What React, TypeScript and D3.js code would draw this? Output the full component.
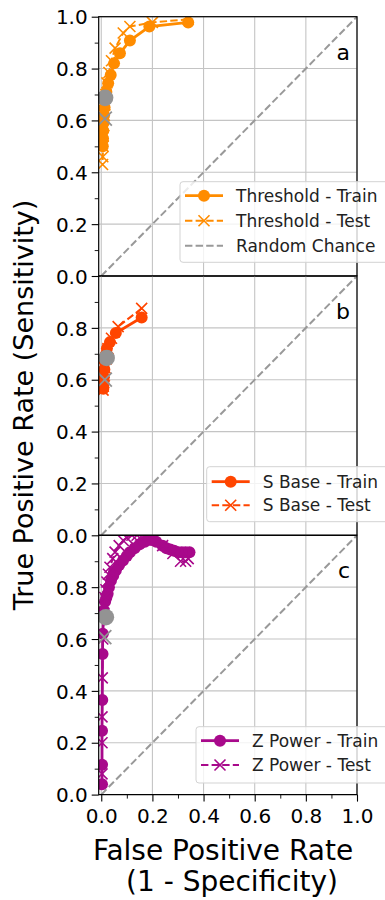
import React, { useEffect, useRef } from 'react';
import * as d3 from 'd3';

// panel a - threshold
const thresholdTrainFpr = [0.34, 0.188, 0.112, 0.073, 0.05, 0.037, 0.027, 0.02, 0.016, 0.013, 0.011, 0.009, 0.008, 0.007, 0.006];
const thresholdTrainTpr = [0.978, 0.962, 0.908, 0.859, 0.82, 0.775, 0.743, 0.71, 0.68, 0.65, 0.62, 0.59, 0.56, 0.53, 0.5];
const thresholdTestFpr = [0.34, 0.2, 0.112, 0.086, 0.054, 0.04, 0.03, 0.022, 0.018, 0.014, 0.012, 0.01, 0.008, 0.007, 0.006, 0.005];
const thresholdTestTpr = [0.99, 0.978, 0.962, 0.937, 0.879, 0.83, 0.785, 0.745, 0.7, 0.66, 0.62, 0.58, 0.54, 0.5, 0.46, 0.43];
// panel b - s base
const sBaseTrainFpr = [0.158, 0.057, 0.034, 0.022, 0.017, 0.014, 0.012, 0.01, 0.009, 0.008];
const sBaseTrainTpr = [0.84, 0.78, 0.745, 0.72, 0.695, 0.67, 0.64, 0.61, 0.585, 0.565];
const sBaseTestFpr = [0.158, 0.066, 0.04, 0.026, 0.019, 0.015, 0.012, 0.01, 0.008, 0.007];
const sBaseTestTpr = [0.875, 0.805, 0.76, 0.72, 0.68, 0.645, 0.615, 0.59, 0.575, 0.56];
// panel c - z power
const zPowerTrainFpr = [0.345, 0.33, 0.315, 0.3, 0.285, 0.27, 0.255, 0.24, 0.215, 0.2, 0.19, 0.17, 0.15, 0.13, 0.112, 0.1, 0.085, 0.07, 0.057, 0.047, 0.038, 0.03, 0.025, 0.02, 0.015, 0.01, 0.006, 0.005, 0.004, 0.003, 0.003, 0.003];
const zPowerTrainTpr = [0.935, 0.935, 0.935, 0.935, 0.94, 0.945, 0.95, 0.96, 0.975, 0.982, 0.983, 0.975, 0.965, 0.95, 0.935, 0.92, 0.903, 0.885, 0.865, 0.845, 0.826, 0.8, 0.775, 0.76, 0.745, 0.71, 0.62, 0.542, 0.365, 0.246, 0.115, 0.04];
const zPowerTestFpr = [0.34, 0.33, 0.31, 0.28, 0.24, 0.2, 0.16, 0.14, 0.12, 0.1, 0.086, 0.07, 0.054, 0.045, 0.034, 0.028, 0.022, 0.018, 0.014, 0.01, 0.006, 0.004, 0.003, 0.003, 0.003];
const zPowerTestTpr = [0.91, 0.9, 0.9, 0.93, 0.96, 0.995, 1.0, 1.0, 1.0, 0.99, 0.98, 0.96, 0.935, 0.91, 0.877, 0.85, 0.82, 0.79, 0.76, 0.7, 0.6, 0.45, 0.3, 0.2, 0.08];
// gray operating points [fpr, tpr] per panel
const grayTrainPoints = [[0.015, 0.687], [0.021, 0.684], [0.018, 0.684]];
const grayTestPoints = [[0.014, 0.607], [0.014, 0.6], [0.012, 0.607]];

const xTicks = [0, 0.2, 0.4, 0.6, 0.8, 1.0];
const yTicksFull = [0, 0.2, 0.4, 0.6, 0.8, 1.0];
const yTicksShort = [0, 0.2, 0.4, 0.6, 0.8];
const minorTicks = [0.1, 0.3, 0.5, 0.7, 0.9];

const FONT = 'DejaVu Sans, sans-serif';
const zip = (a: number[], b: number[]) => a.map((v, i) => [v, b[i]]);

export default function App() {
  const ref = useRef<SVGSVGElement>(null);

  useEffect(() => {
    draw();
  }, []);

  function draw() {
    const svg = d3.select(ref.current);
    svg.selectAll('*').remove();

    const left = 98.7;
    const right = 357;
    const panelH = 259.3;
    const tops = [16.7, 276, 535.3];

    const x = d3.scaleLinear().domain([-0.01, 1.0]).range([left, right]);

    const panels = [
      {
        letter: 'a', color: '#ff8c00', train: zip(thresholdTrainFpr, thresholdTrainTpr), test: zip(thresholdTestFpr, thresholdTestTpr),
        names: ['Threshold - Train', 'Threshold - Test', 'Random Chance'], yTicks: yTicksFull,
        legend: { x: 180, y: 165, h: 80.6, row0: 14, gap: 25 },
      },
      {
        letter: 'b', color: '#ff4500', train: zip(sBaseTrainFpr, sBaseTrainTpr), test: zip(sBaseTestFpr, sBaseTestTpr),
        names: ['S Base - Train', 'S Base - Test'], yTicks: yTicksShort,
        legend: { x: 206.7, y: 190.7, h: 55, row0: 15, gap: 23.5 },
      },
      {
        letter: 'c', color: '#a8098b', train: zip(zPowerTrainFpr, zPowerTrainTpr), test: zip(zPowerTestFpr, zPowerTestTpr),
        names: ['Z Power - Train', 'Z Power - Test'], yTicks: yTicksShort,
        legend: { x: 196, y: 191.4, h: 56.3, row0: 14, gap: 24.3 },
      },
    ];

    const xMark = (sel: any, cx: number, cy: number, s: number, color: string, w: number) => {
      sel.append('path')
        .attr('d', `M${cx - s},${cy - s}L${cx + s},${cy + s}M${cx - s},${cy + s}L${cx + s},${cy - s}`)
        .attr('stroke', color).attr('stroke-width', w).attr('fill', 'none');
    };

    panels.forEach((p, i) => {
      const top = tops[i];
      const bottom = top + panelH;
      const y = d3.scaleLinear().domain([0, 1]).range([bottom, top]);
      const g = svg.append('g');
      const clipId = `clip-${i}`;
      svg.append('clipPath').attr('id', clipId).append('rect')
        .attr('x', left).attr('y', top).attr('width', right - left).attr('height', panelH);

      // grid
      const grid = g.append('g').attr('stroke', '#c4c4c4').attr('stroke-width', 1.1);
      xTicks.forEach((t) => grid.append('line').attr('x1', x(t)).attr('x2', x(t)).attr('y1', top).attr('y2', bottom));
      p.yTicks.forEach((t) => grid.append('line').attr('x1', left).attr('x2', right).attr('y1', y(t)).attr('y2', y(t)));

      const plot = g.append('g').attr('clip-path', `url(#${clipId})`);
      // random chance
      plot.append('line')
        .attr('x1', x(0)).attr('y1', y(0)).attr('x2', x(1)).attr('y2', y(1))
        .attr('stroke', '#999').attr('stroke-width', 2).attr('stroke-dasharray', '7.4,3.2');

      const line = d3.line<number[]>().x((d) => x(d[0])).y((d) => y(d[1]));
      // train
      plot.append('path').attr('d', line(p.train)).attr('fill', 'none')
        .attr('stroke', p.color).attr('stroke-width', 2.8);
      plot.selectAll(null).data(p.train).enter().append('circle')
        .attr('cx', (d) => x(d[0])).attr('cy', (d) => y(d[1])).attr('r', 6).attr('fill', p.color);
      // test
      plot.append('path').attr('d', line(p.test)).attr('fill', 'none')
        .attr('stroke', p.color).attr('stroke-width', 2).attr('stroke-dasharray', '7.4,3.2');
      p.test.forEach((d) => xMark(plot, x(d[0]), y(d[1]), 5.5, p.color, 1.6));
      // gray operating points
      const gt = grayTrainPoints[i];
      const gs = grayTestPoints[i];
      plot.append('circle').attr('cx', x(gt[0])).attr('cy', y(gt[1])).attr('r', 8.3).attr('fill', '#939393');
      xMark(plot, x(gs[0]), y(gs[1]), 7, '#939393', 1.8);

      // y axis
      const yAxis = g.append('g').attr('transform', `translate(${left},0)`)
        .call(d3.axisLeft(y).tickValues(p.yTicks).tickSize(7).tickPadding(4).tickFormat(d3.format('.1f')));
      yAxis.select('.domain').remove();
      yAxis.selectAll('text').attr('font-size', 20).attr('font-family', FONT).attr('fill', '#000').attr('dy', '0.36em');
      yAxis.selectAll('line').attr('stroke-width', 1.1);
      const yMinor = g.append('g').attr('transform', `translate(${left},0)`)
        .call(d3.axisLeft(y).tickValues(minorTicks).tickSize(4).tickFormat(() => ''));
      yMinor.select('.domain').remove();
      yMinor.selectAll('line').attr('stroke-width', 0.9);

      if (i === 2) {
        const xAxis = g.append('g').attr('transform', `translate(0,${bottom})`)
          .call(d3.axisBottom(x).tickValues(xTicks).tickSize(7).tickPadding(7.5).tickFormat(d3.format('.1f')));
        xAxis.select('.domain').remove();
        xAxis.selectAll('text').attr('font-size', 20).attr('font-family', FONT).attr('fill', '#000');
        xAxis.selectAll('line').attr('stroke-width', 1.1);
        const xMinor = g.append('g').attr('transform', `translate(0,${bottom})`)
          .call(d3.axisBottom(x).tickValues(minorTicks).tickSize(4).tickFormat(() => ''));
        xMinor.select('.domain').remove();
        xMinor.selectAll('line').attr('stroke-width', 0.9);
      }

      // spines
      g.append('rect').attr('x', left).attr('y', top).attr('width', right - left).attr('height', panelH)
        .attr('fill', 'none').attr('stroke', '#000').attr('stroke-width', 1.2);

      // panel letter
      g.append('text').attr('x', 350).attr('y', top + 43).attr('text-anchor', 'end')
        .attr('font-family', FONT).attr('font-size', 22).attr('fill', '#000').text(p.letter);

      // legend
      const L = p.legend;
      const lg = g.append('g').attr('transform', `translate(${L.x},${top + L.y})`);
      lg.append('rect').attr('x', 0).attr('y', 0).attr('width', 392 - L.x).attr('height', L.h).attr('rx', 3)
        .attr('fill', '#fff').attr('fill-opacity', 0.8).attr('stroke', '#d3d3d3').attr('stroke-width', 1);
      p.names.forEach((name, k) => {
        const ry = L.row0 + k * L.gap;
        const h0 = 5;
        const h1 = 43;
        const mid = (h0 + h1) / 2;
        if (k === 0) {
          lg.append('line').attr('x1', h0).attr('x2', h1).attr('y1', ry).attr('y2', ry)
            .attr('stroke', p.color).attr('stroke-width', 2.8);
          lg.append('circle').attr('cx', mid).attr('cy', ry).attr('r', 6).attr('fill', p.color);
        } else if (k === 1) {
          lg.append('line').attr('x1', h0).attr('x2', h1).attr('y1', ry).attr('y2', ry)
            .attr('stroke', p.color).attr('stroke-width', 2).attr('stroke-dasharray', '7.4,3.2');
          xMark(lg, mid, ry, 5.5, p.color, 1.6);
        } else {
          lg.append('line').attr('x1', h0).attr('x2', h1).attr('y1', ry).attr('y2', ry)
            .attr('stroke', '#999').attr('stroke-width', 2).attr('stroke-dasharray', '7.4,3.2');
        }
        lg.append('text').attr('x', 56).attr('y', ry).attr('dy', '0.36em')
          .attr('font-family', FONT).attr('font-size', 17).attr('fill', '#222').text(name);
      });
    });

    // axis titles
    svg.append('text').attr('transform', 'translate(33,405) rotate(-90)').attr('text-anchor', 'middle')
      .attr('font-family', FONT).attr('font-size', 27).attr('fill', '#000').text('True Positive Rate (Sensitivity)');
    svg.append('text').attr('x', 223).attr('y', 860).attr('text-anchor', 'middle')
      .attr('font-family', FONT).attr('font-size', 28).attr('fill', '#000').text('False Positive Rate');
    svg.append('text').attr('x', 232).attr('y', 891).attr('text-anchor', 'middle')
      .attr('font-family', FONT).attr('font-size', 28).attr('fill', '#000').text('(1 - Specificity)');
  }

  return (
    <svg ref={ref} width={385} height={900} style={{ position: 'absolute', left: 0, top: 0, background: '#fff' }} />
  );
}
